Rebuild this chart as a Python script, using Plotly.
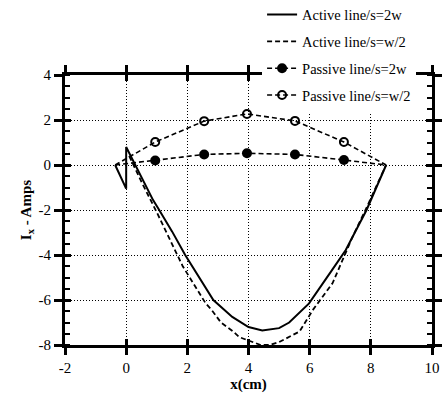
import plotly.graph_objects as go

# Active line, s=2w (solid)
act2w_x = [-0.36, 0.0, 0.0, 0.45, 0.88, 1.08, 1.5, 1.93, 2.4, 2.85, 3.47, 4.0, 4.45, 5.0, 5.33, 5.98, 6.73, 7.18, 7.86, 8.5]
act2w_y = [0.0, -1.05, 0.8, -0.4, -1.56, -2.0, -2.95, -4.0, -5.05, -6.0, -6.75, -7.2, -7.35, -7.25, -7.0, -6.15, -4.67, -3.78, -2.0, 0.0]

# Active line, s=w/2 (dashed)
actw2_x = [0.1, 0.5, 1.0, 1.85, 2.6, 2.8, 3.1, 3.5, 3.7, 4.0, 4.4, 4.7, 5.0, 5.67, 6.1, 6.75, 7.4, 7.86, 8.5]
actw2_y = [0.4, -0.75, -2.1, -4.5, -6.15, -6.45, -7.0, -7.4, -7.65, -7.8, -8.0, -8.0, -7.87, -7.4, -6.45, -5.25, -3.2, -1.9, 0.0]

# Passive line, s=2w (filled circles)
pas2w_x = [-0.36, 0.95, 2.55, 3.95, 5.52, 7.12, 8.5]
pas2w_y = [0.0, 0.2, 0.47, 0.52, 0.47, 0.22, 0.0]

# Passive line, s=w/2 (open circles)
pasw2_x = [-0.36, 0.95, 2.55, 3.95, 5.52, 7.12, 8.5]
pasw2_y = [0.0, 1.02, 1.95, 2.27, 1.96, 1.02, 0.0]

names = ["Active line/s=2w", "Active line/s=w/2", "Passive line/s=2w", "Passive line/s=w/2"]

x_tickvals = [-2, 0, 2, 4, 6, 8, 10]
x_ticktext = ["-2", "0", "2", "4", "6", "8", "10"]
y_tickvals = [-8, -6, -4, -2, 0, 2, 4]
y_ticktext = ["-8", "-6", "-4", "-2", "0", "2", "4"]

FONT = "Liberation Serif"
DASH = "5px,3px"
TICKFONT = dict(family=FONT, size=15, color="black")

fig = go.Figure()

fig.add_trace(go.Scatter(x=act2w_x, y=act2w_y, mode="lines", line=dict(color="black", width=2),
                         name=names[0], legendgroup="a"))
fig.add_trace(go.Scatter(x=actw2_x, y=actw2_y, mode="lines", line=dict(color="black", width=1.8, dash=DASH),
                         name=names[1], legendgroup="b"))

fig.add_trace(go.Scatter(x=pas2w_x, y=pas2w_y, mode="lines", line=dict(color="black", width=1.6, dash=DASH),
                         showlegend=False))
fig.add_trace(go.Scatter(x=pas2w_x[1:-1], y=pas2w_y[1:-1], mode="markers",
                         marker=dict(symbol="circle", size=10, color="black"), showlegend=False))
fig.add_trace(go.Scatter(x=[None], y=[None], mode="lines+markers",
                         line=dict(color="black", width=1.6, dash=DASH),
                         marker=dict(symbol="circle", size=10, color="black"),
                         name=names[2], legendgroup="c"))

fig.add_trace(go.Scatter(x=pasw2_x, y=pasw2_y, mode="lines", line=dict(color="black", width=1.6, dash=DASH),
                         showlegend=False))
fig.add_trace(go.Scatter(x=pasw2_x[1:-1], y=pasw2_y[1:-1], mode="markers",
                         marker=dict(symbol="circle-open", size=8, color="black", line=dict(width=2)),
                         showlegend=False))
fig.add_trace(go.Scatter(x=[None], y=[None], mode="lines+markers",
                         line=dict(color="black", width=1.6, dash=DASH),
                         marker=dict(symbol="circle-open", size=8, color="black", line=dict(width=2)),
                         name=names[3], legendgroup="d"))

# overlay axes to get crossing ticks
fig.add_trace(go.Scatter(x=[None], y=[None], xaxis="x2", yaxis="y2", showlegend=False))

common_x = dict(range=[-2, 10], tickvals=x_tickvals, zeroline=False)
common_y = dict(range=[-8, 4], tickvals=y_tickvals, zeroline=False)

fig.update_layout(
    width=442, height=398,
    margin=dict(l=65, r=10, t=75, b=53, autoexpand=False),
    paper_bgcolor="white", plot_bgcolor="white",
    font=dict(family=FONT, size=15, color="black"),
    showlegend=True,
    legend=dict(x=0.537, y=1.283, xanchor="left", yanchor="top", bgcolor="white",
                font=dict(family=FONT, size=14.5, color="black"), tracegroupgap=5,
                itemwidth=30),
    xaxis=dict(**common_x, ticktext=x_ticktext, tickmode="array",
               showline=True, linewidth=3, linecolor="black", mirror="allticks",
               ticks="outside", ticklen=7, tickwidth=3, tickcolor="black", tickfont=TICKFONT,
               showgrid=True, gridcolor="black", griddash="1px,2px", gridwidth=1,
               title=dict(text="<b>x(cm)</b>", font=dict(family=FONT, size=15), standoff=2)),
    yaxis=dict(**common_y, ticktext=y_ticktext, tickmode="array",
               showline=True, linewidth=3, linecolor="black", mirror="allticks",
               ticks="outside", ticklen=8, tickwidth=3, tickcolor="black", tickfont=TICKFONT,
               showgrid=True, gridcolor="black", griddash="1px,2px", gridwidth=1,
               minor=dict(dtick=0.5, tick0=0, ticks="inside", ticklen=5, tickwidth=2, tickcolor="black", showgrid=False),
               title=dict(text="<b>I<sub>x</sub> - Amps</b>", font=dict(family=FONT, size=15), standoff=4)),
    xaxis2=dict(**common_x, tickmode="array", overlaying="x", matches="x", showline=False, mirror="allticks",
                ticks="inside", ticklen=6, tickwidth=3, tickcolor="black",
                showticklabels=False, showgrid=False),
    yaxis2=dict(**common_y, tickmode="array", overlaying="y", matches="y", showline=False, mirror="allticks",
                ticks="inside", ticklen=6, tickwidth=3, tickcolor="black",
                showticklabels=False, showgrid=False),
)

fig.write_html("out.html")
